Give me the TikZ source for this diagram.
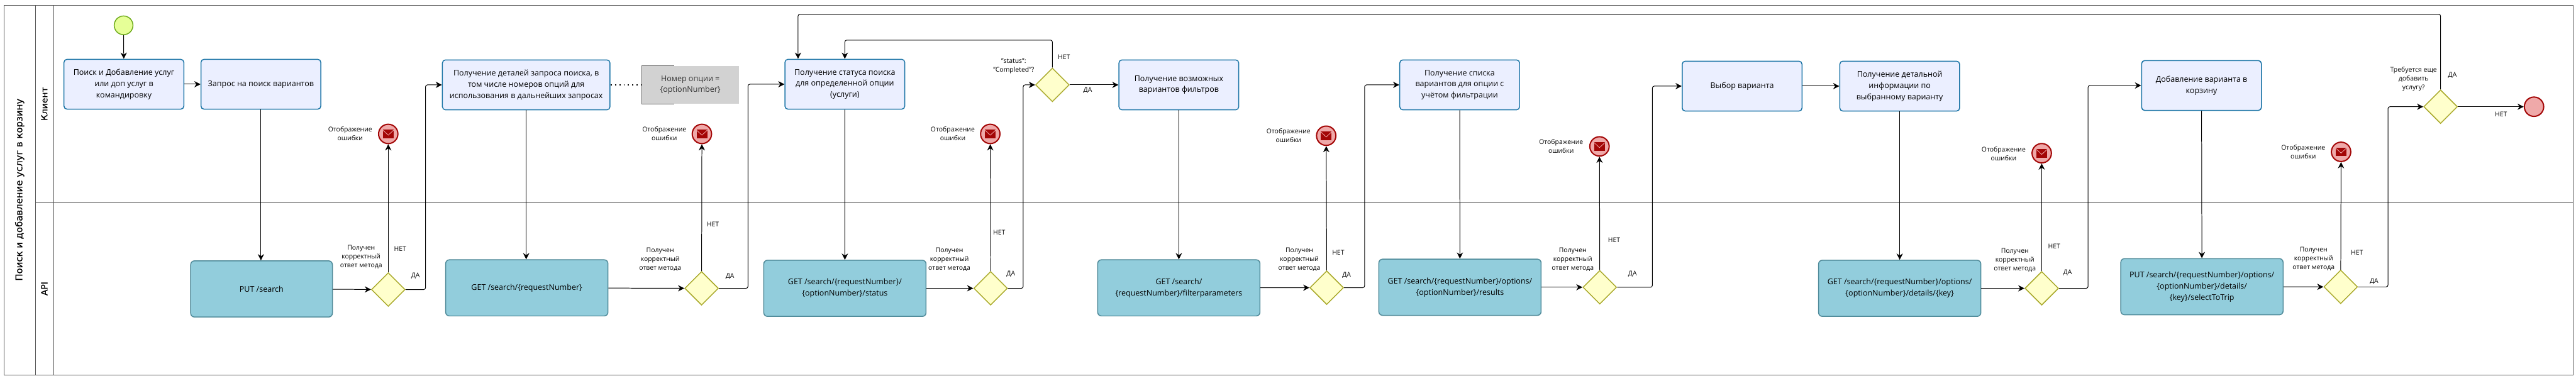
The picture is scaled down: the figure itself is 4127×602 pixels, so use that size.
\documentclass[tikz,border=0pt]{standalone}
\usepackage{fontspec}
\usepackage{xcolor}
\usetikzlibrary{arrows.meta,shapes.geometric}
\setmainfont{Open Sans}
\newfontfamily\lanefont[FakeBold=0.4]{DejaVu Sans}

\definecolor{taskfill}{HTML}{EBEFFF}
\definecolor{taskline}{HTML}{1B74A6}
\definecolor{apifill}{HTML}{92CDDC}
\definecolor{apiline}{HTML}{4F8A99}
\definecolor{gatefill}{HTML}{FFFFCC}
\definecolor{gateline}{HTML}{A9A92B}
\definecolor{startfill}{HTML}{E6FF97}
\definecolor{startline}{HTML}{6FAB1D}
\definecolor{errfill}{HTML}{EFA9A9}
\definecolor{errline}{HTML}{A30606}
\definecolor{laneline}{HTML}{555555}

\tikzset{
  tasknode/.style={draw=taskline, fill=taskfill, line width=1.5pt, rounded corners=5pt, minimum width=192pt, minimum height=80pt, inner sep=0pt, align=center, font={\fontsize{12.6}{18}\selectfont}},
  apinode/.style={draw=apiline, fill=apifill, line width=1.5pt, rounded corners=6pt, minimum width=260pt, minimum height=90pt, inner sep=0pt, align=center, font={\fontsize{12.6}{18}\selectfont}},
  gatenode/.style={diamond, aspect=1, draw=gateline, fill=gatefill, line width=1.5pt, minimum width=54pt, minimum height=54pt, inner sep=0pt},
  notenode/.style={fill=gray!35, minimum width=156pt, minimum height=61pt, inner sep=0pt, align=center, text=black!80, font={\fontsize{12.6}{18}\selectfont}},
  startnode/.style={circle, draw=startline, fill=startfill, line width=1.5pt, minimum size=30pt, inner sep=0pt},
  endnode/.style={circle, draw=errline, fill=errfill, line width=2pt, minimum size=31pt, inner sep=0pt},
  errnode/.style={endnode, path picture={
    \begin{scope}[shift={(path picture bounding box.center)}]
      \fill[errline] (-8.5,-7) rectangle (8.5,7);
      \draw[errfill, line width=0.8pt] (-8.5,-6) -- (0,2) -- (8.5,-6);
    \end{scope}}},
  lbl/.style={inner sep=0pt, align=center, font={\fontsize{10.5}{14}\selectfont}},
  lanelbl/.style={rotate=90, inner sep=0pt, font={\lanefont\fontsize{14}{16}\selectfont}},
  flow/.style={-{Stealth[length=10pt,width=10pt]}, line width=1pt},
  bendflow/.style={flow, rounded corners=3pt}
}

\begin{document}
\begin{tikzpicture}[x=1pt, y=-1pt]
    \useasboundingbox (0,0) rectangle (4127,602);

    % Pool and lanes
    \node[draw=laneline, minimum width=4115.5pt, minimum height=592pt, inner sep=0pt, line width=0.8pt] (pool) at (2064.25,304.5) {};
    \coordinate (laneTop) at (57,8.5);
    \coordinate (laneBottom) at (57,600.5);
    \coordinate (headTop) at (86.4,8.5);
    \coordinate (headBottom) at (86.4,600.5);
    \coordinate (laneLeft) at (57,325.2);
    \coordinate (laneRight) at (4122,325.2);
    \draw[laneline, line width=0.8pt] (laneTop) -- (laneBottom);
    \draw[laneline, line width=0.8pt] (headTop) -- (headBottom);
    \draw[laneline, line width=0.8pt] (laneLeft) -- (laneRight);
    \node[lanelbl, font={\lanefont\fontsize{15}{17}\selectfont}] (poolName) at (31.5,304) {Поиск и добавление услуг в корзину};
    \node[lanelbl] (laneClient) at (71,166.5) {Клиент};
    \node[lanelbl] (laneApi) at (71,462.5) {API};

    % Client tasks
    \node[startnode] (start) at (198,40.6) {};
    \node[tasknode] (taskSearch) at (198.5,135) {Поиск и Добавление услуг\\или доп услуг в\\командировку};
    \node[tasknode] (taskRequest) at (418,135) {Запрос на поиск вариантов};
    \node[tasknode, minimum width=268.5pt] (taskDetails) at (843,136) {Получение деталей запроса поиска, в\\том числе номеров опций для\\использования в дальнейших запросах};
    \node[notenode] (noteOption) at (1106,136) {Номер опции =\\\{optionNumber\}};
    \draw[gray!80!black, line width=1pt] ([xshift=52pt]noteOption.north west) -- (noteOption.north west) -- (noteOption.south west) -- ([xshift=52pt]noteOption.south west);
    \node[tasknode] (taskStatus) at (1353.5,135) {Получение статуса поиска\\для определенной опции\\(услуги)};
    \node[tasknode] (taskFilters) at (1888.6,136) {Получение возможных\\вариантов фильтров};
    \node[tasknode] (taskList) at (2338.5,136) {Получение списка\\вариантов для опции с\\учётом фильтрации};
    \node[tasknode] (taskChoice) at (2791,138) {Выбор варианта};
    \node[tasknode] (taskInfo) at (3043.5,138) {Получение детальной\\информации по\\выбранному варианту};
    \node[tasknode] (taskCart) at (3527,137) {Добавление варианта в\\корзину};

    % API calls
    \node[apinode, minimum width=227pt] (apiSearch) at (419,463) {PUT /search};
    \node[apinode] (apiDetails) at (844,461.3) {GET /search/\{requestNumber\}};
    \node[apinode] (apiStatus) at (1353.6,462) {GET /search/\{requestNumber\}/\\\{optionNumber\}/status};
    \node[apinode] (apiFilters) at (1888.6,461.3) {GET /search/\\\{requestNumber\}/filterparameters};
    \node[apinode] (apiResults) at (2339,460.3) {GET /search/\{requestNumber\}/options/\\\{optionNumber\}/results};
    \node[apinode] (apiKey) at (3043.5,462) {GET /search/\{requestNumber\}/options/\\\{optionNumber\}/details/\{key\}};
    \node[apinode] (apiTrip) at (3527.7,459.4) {PUT /search/\{requestNumber\}/options/\\\{optionNumber\}/details/\\\{key\}/selectToTrip};

    % Gateways
    \node[gatenode] (gateSearch) at (622,464) {};
    \node[gatenode] (gateDetails) at (1124,462) {};
    \node[gatenode] (gateStatus) at (1587,462) {};
    \node[gatenode] (gateDone) at (1686,136) {};
    \node[gatenode] (gateFilters) at (2125.5,461) {};
    \node[gatenode] (gateResults) at (2563,460.3) {};
    \node[gatenode] (gateKey) at (3271,462) {};
    \node[gatenode] (gateTrip) at (3750,459.7) {};
    \node[gatenode] (gateMore) at (3910,171) {};

    % End events
    \node[errnode] (errSearch) at (622,214.6) {};
    \node[errnode] (errDetails) at (1124.5,214.6) {};
    \node[errnode] (errStatus) at (1586.5,214.6) {};
    \node[errnode] (errFilters) at (2124.7,217.5) {};
    \node[errnode] (errResults) at (2562.5,234.6) {};
    \node[errnode] (errKey) at (3271,245.5) {};
    \node[errnode] (errTrip) at (3750.6,243.3) {};
    \node[endnode] (finish) at (4059.7,171) {};

    % Error labels
    \node[lbl] (lblErrSearch) at (561,214) {Отображение\\ошибки};
    \node[lbl] (lblErrDetails) at (1064.3,214) {Отображение\\ошибки};
    \node[lbl] (lblErrStatus) at (1526.4,214) {Отображение\\ошибки};
    \node[lbl] (lblErrFilters) at (2064.3,217) {Отображение\\ошибки};
    \node[lbl] (lblErrResults) at (2501,234) {Отображение\\ошибки};
    \node[lbl] (lblErrKey) at (3210,246.3) {Отображение\\ошибки};
    \node[lbl] (lblErrTrip) at (3690,243.5) {Отображение\\ошибки};

    % Gateway questions
    \node[lbl] (askSearch) at (578.6,412) {Получен\\корректный\\ответ метода};
    \node[lbl] (askDetails) at (1057.6,416) {Получен\\корректный\\ответ метода};
    \node[lbl] (askStatus) at (1521,416) {Получен\\корректный\\ответ метода};
    \node[lbl] (askDone) at (1624,106) {"status":\\"Completed"?};
    \node[lbl] (askFilters) at (2081.7,416) {Получен\\корректный\\ответ метода};
    \node[lbl] (askResults) at (2519.7,416) {Получен\\корректный\\ответ метода};
    \node[lbl] (askKey) at (3228,417) {Получен\\корректный\\ответ метода};
    \node[lbl] (askTrip) at (3706.6,415) {Получен\\корректный\\ответ метода};
    \node[lbl] (askMore) at (3866.7,126.5) {Требуется еще\\добавить\\услугу?};

    % Yes and no labels
    \node[lbl] (noSearch) at (641,398.5) {НЕТ};
    \node[lbl] (yesSearch) at (665.6,441.7) {ДА};
    \node[lbl] (noDetails) at (1142,359) {НЕТ};
    \node[lbl] (yesDetails) at (1169.4,443) {ДА};
    \node[lbl] (noStatus) at (1600.7,372.8) {НЕТ};
    \node[lbl] (yesStatus) at (1619.4,439) {ДА};
    \node[lbl] (noDone) at (1704.5,91.7) {НЕТ};
    \node[lbl] (yesDone) at (1742.6,144.4) {ДА};
    \node[lbl] (noFilters) at (2144,404.6) {НЕТ};
    \node[lbl] (yesFilters) at (2157.4,441) {ДА};
    \node[lbl] (noResults) at (2586,385) {НЕТ};
    \node[lbl] (yesResults) at (2615.4,439) {ДА};
    \node[lbl] (noKey) at (3291,395) {НЕТ};
    \node[lbl] (yesKey) at (3312.4,436.7) {ДА};
    \node[lbl] (noTrip) at (3776,404.6) {НЕТ};
    \node[lbl] (yesTrip) at (3803.5,451) {ДА};
    \node[lbl] (yesMore) at (3929,120.4) {ДА};
    \node[lbl] (noMore) at (4006.8,182.7) {НЕТ};

    % Arrows
    \draw[flow] (start) -- (taskSearch);
    \draw[flow] (taskSearch) -- (taskRequest);
    \draw[flow] (taskRequest) -- (taskRequest |- apiSearch.north);
    \draw[flow] (apiSearch) -- (gateSearch);
    \draw[flow] (gateSearch) -- (errSearch);
    \draw[bendflow] (gateSearch.east) -- ++(32,0) |- (taskDetails.west);
    \draw[line width=1.5pt, dash pattern=on 2pt off 5pt] (taskDetails) -- (noteOption);
    \draw[flow] (taskDetails) -- (taskDetails |- apiDetails.north);
    \draw[flow] (apiDetails) -- (gateDetails);
    \draw[flow] (gateDetails) -- (errDetails);
    \draw[bendflow] (gateDetails.east) -- ++(46.5,0) |- (taskStatus.west);
    \draw[flow] (taskStatus) -- (apiStatus);
    \draw[flow] (apiStatus) -- (gateStatus);
    \draw[flow] (gateStatus) -- (errStatus);
    \draw[bendflow] (gateStatus.east) -- ++(24.5,0) |- (gateDone.west);
    \draw[bendflow] (gateDone.north) |- ++(-332.4,-44) -- (taskStatus.north);
    \draw[flow] (gateDone) -- (taskFilters);
    \draw[flow] (taskFilters) -- (apiFilters);
    \draw[flow] (apiFilters) -- (gateFilters);
    \draw[flow] (gateFilters) -- (errFilters);
    \draw[bendflow] (gateFilters.east) -- ++(33,0) |- (taskList.west);
    \draw[flow] (taskList) -- (apiResults);
    \draw[flow] (apiResults) -- (gateResults);
    \draw[flow] (gateResults) -- (errResults);
    \draw[bendflow] (gateResults.east) -- ++(56.5,0) |- (taskChoice.west);
    \draw[flow] (taskChoice) -- (taskInfo);
    \draw[flow] (taskInfo) -- (apiKey);
    \draw[flow] (apiKey) -- (gateKey);
    \draw[flow] (gateKey) -- (errKey);
    \draw[bendflow] (gateKey.east) -- ++(46.5,0) |- (taskCart.west);
    \draw[flow] (taskCart) -- (apiTrip);
    \draw[flow] (apiTrip) -- (gateTrip);
    \draw[flow] (gateTrip) -- (errTrip);
    \draw[bendflow] (gateTrip.east) -- ++(48,0) |- (gateMore.west);
    \draw[flow] (gateMore) -- (finish);
    \draw[bendflow] (gateMore.north) -- ++(0,-120.4) -| ([xshift=-75pt]taskStatus.north);
\end{tikzpicture}
\end{document}
